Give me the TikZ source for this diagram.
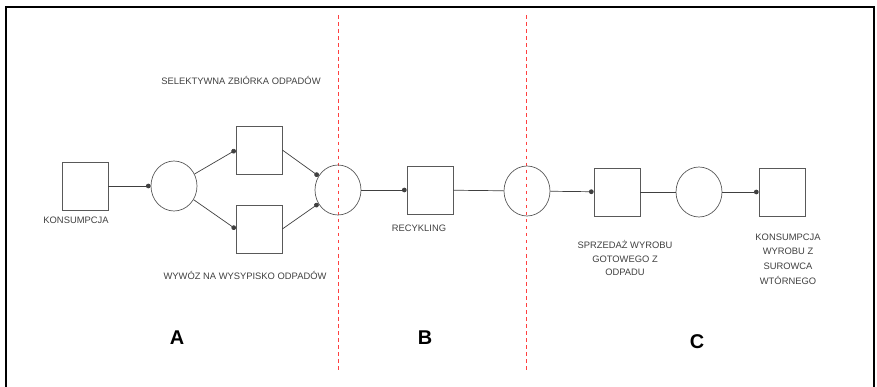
\documentclass[tikz,border=0pt]{standalone}
\usepackage{fontspec}
\setmainfont{Liberation Sans}
\usetikzlibrary{positioning,arrows.meta,shapes.geometric}

\begin{document}
\begin{tikzpicture}[
    x=0.3mm, y=-0.3mm,
    lbl/.style={font=\fontsize{8}{10}\selectfont, align=center, inner sep=1pt, text=black!75},
    etap/.style={font=\fontsize{17}{20}\selectfont\bfseries},
    box/.style={draw=black!65, line width=0.6pt, minimum width=13.8mm, minimum height=14.4mm, inner sep=0pt},
    wez/.style={ellipse, draw=black!65, line width=0.6pt, minimum width=13.8mm, minimum height=15mm, inner sep=0pt},
    lin/.style={draw=black!75, line width=0.6pt},
    arr/.style={lin, -{Circle[length=4pt]}},
    granica/.style={red!75, dashed, line width=0.5pt}
  ]
    \useasboundingbox (0,0) rectangle (877,387);
    % ramka
    \draw[line width=1.2pt] (6,387) -- (6,7) -- (874,7) -- (874,387);

    % granice etapow
    \coordinate (g1a) at (338,15);  \coordinate (g1b) at (338,372);
    \coordinate (g2a) at (526,15);  \coordinate (g2b) at (526,372);
    \draw[granica] (g1a) -- (g1b);
    \draw[granica] (g2a) -- (g2b);

    % wezly
    \node[box] (kons) at (85,186) {};
    \node[wez] (w1) at (174,186) {};
    \node[box] (sel) at (259,150) {};
    \node[box] (wyw) at (259,229) {};
    \node[wez] (w2) at (338,190) {};
    \node[box] (rec) at (430,190) {};
    \node[wez] (w3) at (527,191) {};
    \node[box] (sprz) at (617,192) {};
    \node[wez] (w4) at (699,192) {};
    \node[box] (kw) at (782,192) {};

    % opisy
    \node[lbl] (tkons) at (76,220) {KONSUMPCJA};
    \node[lbl] (tsel) at (241,80) {SELEKTYWNA ZBIÓRKA ODPADÓW};
    \node[lbl] (twyw) at (245,275) {WYWÓZ NA WYSYPISKO ODPADÓW};
    \node[lbl] (trec) at (419,228) {RECYKLING};
    \node[lbl, font=\fontsize{8}{11.5}\selectfont] (tsprz) at (625,258) {SPRZEDAŻ WYROBU\\GOTOWEGO Z\\ODPADU};
    \node[lbl, font=\fontsize{8}{12.4}\selectfont] (tkw) at (788,259) {KONSUMPCJA\\WYROBU Z\\SUROWCA\\WTÓRNEGO};

    \node[etap] (A) at (177,338) {A};
    \node[etap] (B) at (425,338) {B};
    \node[etap] (C) at (697,342) {C};

    % polaczenia
    \draw[arr] (kons) -- (w1);
    \draw[arr] (w1) -- (sel.west);
    \draw[arr] (w1) -- (wyw.west);
    \draw[arr] (sel.east) -- (w2);
    \draw[arr] (wyw.east) -- (w2);
    \draw[arr] (w2) -- (rec);
    \draw[lin] (rec) -- (w3);
    \draw[arr] (w3) -- (sprz);
    \draw[lin] (sprz) -- (w4);
    \draw[arr] (w4) -- (kw);
  \end{tikzpicture}
\end{document}
